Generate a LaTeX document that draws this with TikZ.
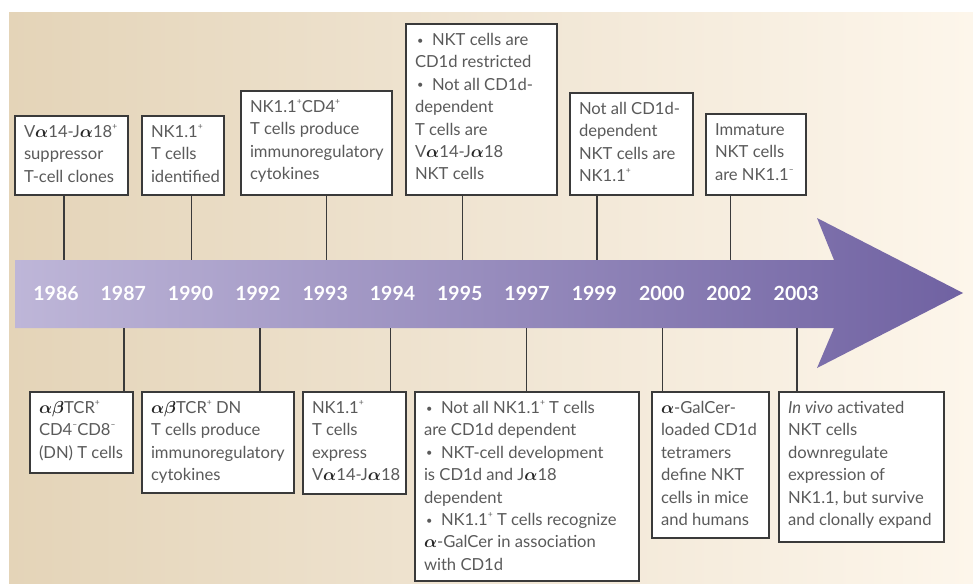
\documentclass[tikz,border=0pt]{standalone}
\usepackage{fontspec}
\setmainfont{Lato}
\definecolor{txt}{HTML}{5A5A5A}
\definecolor{boxc}{HTML}{3A3A3A}
\definecolor{linec}{HTML}{3A3A3A}
\definecolor{bgl}{HTML}{E4D4B8}
\definecolor{bgm}{HTML}{F0E5D3}
\definecolor{bgr}{HTML}{FDF6EB}
\definecolor{arl}{HTML}{BEB6D8}
\definecolor{arr}{HTML}{7062A2}
\newcommand\psup{\raisebox{0.5em}{\fontsize{8.5}{9}\selectfont+}}
\newcommand\msup{\raisebox{0.5em}{\fontsize{8.5}{9}\selectfont –}}
\newcommand\al{{\color{black!85}\boldmath$\alpha$}}
\newcommand\be{{\color{black!85}\boldmath$\beta$}}
\newcommand\fs{\rule{0pt}{21.5pt}}
\newcommand\bul{\par\hangindent=17pt\hangafter=1\noindent\makebox[17pt][l]{\hspace{2pt}\raisebox{0.08em}{\fontsize{11}{11}\selectfont•}}}
\newcommand\tbox[6]{\node[tbox] (#1) at (#2,#3) {\makebox[\dimexpr#4pt-18pt\relax][l]{\parbox[t][#5pt][t]{\dimexpr#4pt+80pt\relax}{\raggedright #6}}};}
\begin{document}
\begin{tikzpicture}[x=1pt,y=-1pt,
  tbox/.style={draw=boxc, line width=1.2pt, fill=white, anchor=north west,
    inner xsep=9pt, inner ysep=0pt, outer sep=0pt, text=txt,
    font=\fontsize{16.6}{22.4}\selectfont},
  year/.style={text=white, font=\fontsize{19.5}{20}\selectfont\bfseries},
  conn/.style={draw=linec, line width=1.2pt}]
\useasboundingbox (0,0) rectangle (973,583);
% background
\shade[left color=bgl, right color=bgr, middle color=bgm] (9,13) rectangle (973,583);
% arrow
\shade[left color=arl, right color=arr]
  (15,260) -- (834,260) -- (817,218) -- (963,293) -- (817,368) -- (834,328) -- (15,328) -- cycle;
% years
\foreach \yr [count=\i from 0] in {1986,1987,1990,1992,1993,1994,1995,1997,1999,2000,2002,2003}
  \node[year] (y\yr) at ({56+67.3*\i},293) {\yr};
% top boxes
\tbox{b1986}{15}{116}{113}{79}{\fs V\al14-J\al18\psup\\ suppressor\\ T-cell clones}
\tbox{b1990}{142}{116}{82}{79}{\fs NK1.1\psup\\ T cells\\ identified}
\tbox{b1993}{241}{91}{151}{104}{\fs NK1.1\psup CD4\psup\\ T cells produce\\ immunoregulatory\\ cytokines}
\tbox{b1995}{406}{24}{151}{171}{\bul\fs NKT cells are\\ CD1d restricted \bul Not all CD1d-\\ dependent\\ T cells are\\ V\al14-J\al18\\ NKT cells}
\tbox{b1999}{570}{93}{123}{102}{\fs Not all CD1d-\\ dependent\\ NKT cells are\\ NK1.1\psup}
\tbox{b2002}{706}{114}{100}{81}{\fs Immature\\ NKT cells\\ are NK1.1\msup}
% bottom boxes
\tbox{b1987}{30}{392}{103}{81}{\fs \al\be TCR\psup\\ CD4\msup CD8\msup\\ (DN) T cells}
\tbox{b1992}{142}{392}{152}{101}{\fs \al\be TCR\psup{} DN\\ T cells produce\\ immunoregulatory\\ cytokines}
\tbox{b1994}{303}{392}{103}{102}{\fs NK1.1\psup\\ T cells\\ express\\ V\al14-J\al18}
\tbox{b1997}{415}{392}{224}{189}{\bul\fs Not all NK1.1\psup{} T cells\\ are CD1d dependent \bul NKT-cell development\\ is CD1d and J\al18\\ dependent \bul NK1.1\psup{} T cells recognize\\ \al-GalCer in association\\ with CD1d}
\tbox{b2000}{652}{392}{117}{146}{\fs \al-GalCer-\\ loaded CD1d\\ tetramers\\ define NKT\\ cells in mice\\ and humans}
\tbox{b2003}{779}{392}{165}{150}{\fs\textit{In vivo} activated\\ NKT cells\\ downregulate\\ expression of\\ NK1.1, but survive\\ and clonally expand}
% connectors
\foreach \yr/\x in {1986/64,1990/191.7,1993/326.7,1995/462.7,1999/597,2002/730.7}{
  \coordinate (c\yr) at (\x,260);
  \draw[conn] (c\yr |- b\yr.south) -- (c\yr);
}
\foreach \yr/\x in {1987/124,1992/260,1994/390.7,1997/526.7,2000/662.7,2003/797}{
  \coordinate (c\yr) at (\x,328);
  \draw[conn] (c\yr) -- (c\yr |- b\yr.north);
}
\end{tikzpicture}
\end{document}
